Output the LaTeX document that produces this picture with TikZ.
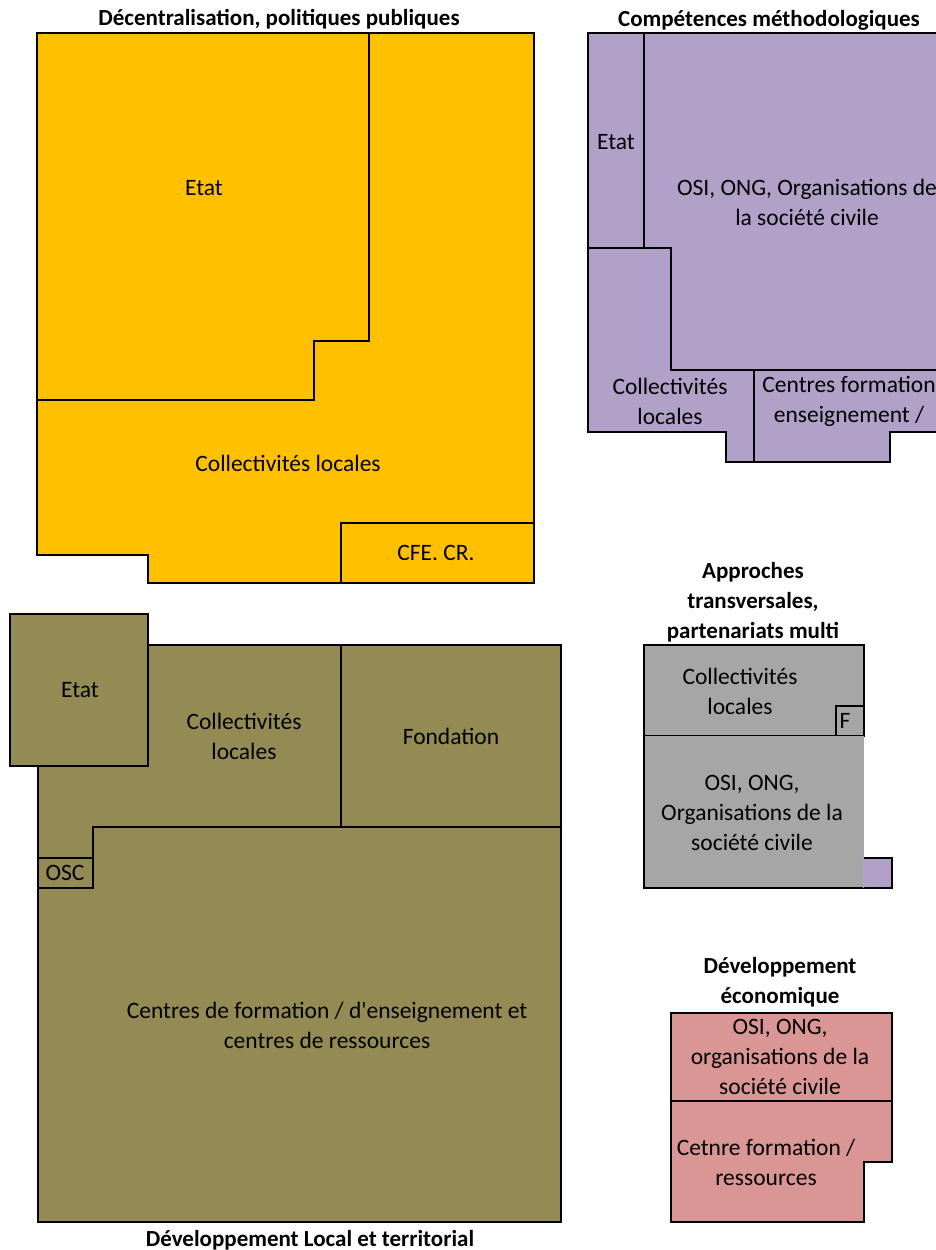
\documentclass[tikz,border=0pt]{standalone}
\usepackage{fontspec}
\setmainfont{Carlito}
\definecolor{orangebox}{HTML}{FFC000}
\definecolor{violetbox}{HTML}{B1A0C7}
\definecolor{olivebox}{HTML}{948A54}
\definecolor{greybox}{HTML}{A6A6A6}
\definecolor{pinkbox}{HTML}{DA9694}
\begin{document}
\begin{tikzpicture}[x=1pt, y=-1pt, line width=2pt, line join=miter,
    lbl/.style={font=\fontsize{23.5}{30}\selectfont, align=center, inner sep=0pt},
    ttl/.style={font=\fontsize{23}{30}\selectfont\bfseries, align=center, inner sep=0pt}]
    \useasboundingbox (0,0) rectangle (936,1250);
    \clip (0,0) rectangle (936,1250);
    % Decentralisation
    \filldraw[fill=orangebox] (37,33) -- (369,33) -- (369,341) -- (314,341) -- (314,400) -- (37,400) -- cycle;
    \filldraw[fill=orangebox] (369,33) -- (534,33) -- (534,523) -- (341,523) -- (341,583) -- (148,583) -- (148,555) -- (37,555) -- (37,400) -- (314,400) -- (314,341) -- (369,341) -- cycle;
    \filldraw[fill=orangebox] (341,523) rectangle (534,583);
    \node[ttl] (dectitle) at (279,19) {Décentralisation, politiques publiques};
    \node[lbl] (decetat) at (204,188) {Etat};
    \node[lbl] (deccoll) at (288,463) {Collectivités locales};
    \node[lbl] (deccfe) at (436,553) {CFE. CR.};
    % Competences
    \filldraw[fill=violetbox] (588,33) rectangle (644,248);
    \filldraw[fill=violetbox] (644,33) -- (940,33) -- (940,370) -- (671,370) -- (671,248) -- (644,248) -- cycle;
    \filldraw[fill=violetbox] (588,248) -- (671,248) -- (671,370) -- (754,370) -- (754,462) -- (726,462) -- (726,432) -- (588,432) -- cycle;
    \filldraw[fill=violetbox] (754,370) -- (940,370) -- (940,432) -- (890,432) -- (890,462) -- (754,462) -- cycle;
    \node[ttl] (comptitle) at (769,20) {Compétences méthodologiques};
    \node[lbl] (competat) at (616,142) {Etat};
    \node[lbl] (composi) at (807,202) {OSI, ONG, Organisations de\\la société civile};
    \node[lbl] (compcoll) at (670,401) {Collectivités\\locales};
    \node[lbl] (compcentres) at (849,401) {Centres formation\\enseignement /};
    % Developpement local
    \filldraw[fill=olivebox] (148,645) -- (341,645) -- (341,827) -- (93,827) -- (93,858) -- (38,858) -- (38,766) -- (148,766) -- cycle;
    \filldraw[fill=olivebox] (341,645) rectangle (561,827);
    \filldraw[fill=olivebox] (93,827) -- (561,827) -- (561,1222) -- (38,1222) -- (38,888) -- (93,888) -- cycle;
    \filldraw[fill=olivebox] (38,858) rectangle (93,888);
    \filldraw[fill=olivebox] (10,614) rectangle (148,766);
    \node[lbl] (locetat) at (80,690) {Etat};
    \node[lbl] (loccoll) at (244,736) {Collectivités\\locales};
    \node[lbl] (locfond) at (451,736) {Fondation};
    \node[lbl] (locosc) at (65,873) {OSC};
    \node[lbl] (loccentres) at (327,1025) {Centres de formation / d\textquotesingle enseignement et\\centres de ressources};
    \node[ttl] (loctitle) at (310,1240) {Développement Local et territorial};
    % Approches transversales
    \filldraw[fill=greybox] (644,645) rectangle (864,736);
    \filldraw[fill=greybox] (836,706) rectangle (864,736);
    \fill[greybox] (644,736) rectangle (864,888);
    \draw (644,736) -- (644,888) -- (864,888);
    \fill[violetbox] (863,858) rectangle (892,888);
    \draw (864,858) -- (892,858) -- (892,888) -- (864,888);
    \node[ttl] (apptitle) at (753,602) {Approches\\transversales,\\partenariats multi};
    \node[lbl] (appcoll) at (740,691) {Collectivités\\locales};
    \node[lbl] (appf) at (845,721) {F};
    \node[lbl] (apposi) at (752,813) {OSI, ONG,\\Organisations de la\\société civile};
    % Developpement economique
    \filldraw[fill=pinkbox] (671,1013) rectangle (892,1101);
    \filldraw[fill=pinkbox] (671,1101) -- (892,1101) -- (892,1162) -- (864,1162) -- (864,1222) -- (671,1222) -- cycle;
    \node[ttl] (ecotitle) at (780,982) {Développement\\économique};
    \node[lbl] (ecoosi) at (780,1057) {OSI, ONG,\\organisations de la\\société civile};
    \node[lbl] (ecocentre) at (766,1162) {Cetnre formation /\\ressources};
\end{tikzpicture}
\end{document}
